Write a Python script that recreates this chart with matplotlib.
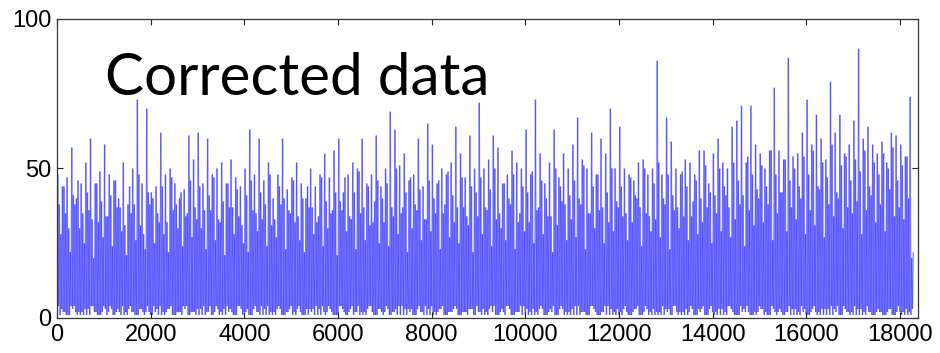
import numpy as np
import matplotlib.pyplot as plt
from matplotlib.collections import LineCollection

# spike heights, one per 100 samples
peaks = [48, 44, 47, 57, 40, 45, 52, 60, 45, 49,
         58, 48, 46, 40, 52, 38, 50, 73, 45, 70,
         42, 44, 62, 48, 50, 45, 40, 43, 61, 53,
         62, 45, 60, 48, 50, 52, 45, 53, 47, 44,
         50, 63, 48, 60, 46, 52, 40, 48, 60, 43,
         47, 52, 45, 40, 50, 44, 48, 55, 47, 56,
         60, 42, 48, 52, 50, 60, 45, 48, 61, 44,
         50, 69, 63, 51, 55, 46, 48, 60, 44, 65,
         58, 45, 50, 48, 52, 64, 55, 47, 61, 50,
         72, 50, 53, 61, 57, 45, 48, 56, 52, 50,
         63, 48, 73, 55, 45, 52, 63, 47, 55, 50,
         58, 67, 53, 50, 62, 48, 60, 55, 70, 50,
         64, 50, 48, 46, 52, 53, 48, 50, 86, 48,
         67, 59, 50, 48, 53, 52, 48, 56, 56, 45,
         55, 60, 52, 50, 64, 66, 71, 52, 71, 58,
         55, 50, 56, 77, 56, 53, 87, 54, 55, 62,
         73, 58, 68, 60, 53, 79, 62, 68, 55, 58,
         66, 90, 60, 64, 58, 55, 59, 52, 62, 61,
         58, 54, 74]

# smaller spikes in between
mids = [38, 44, 30, 41, 46, 35, 42, 33, 45, 39,
        34, 41, 46, 37, 31, 44, 38, 48, 28, 42,
        40, 35, 44, 32, 47, 38, 42, 34, 46, 37,
        44, 36, 41, 47, 33, 39, 45, 37, 43, 31,
        41, 46, 35, 42, 38, 48, 33, 44, 40, 36,
        46, 34, 40, 44, 37, 32, 47, 39, 35, 42,
        39, 47, 34, 42, 49, 37, 44, 32, 46, 40,
        45, 37, 50, 35, 42, 47, 38, 43, 33, 46,
        40, 46, 35, 49, 41, 37, 47, 34, 44, 42,
        47, 37, 43, 50, 35, 45, 40, 48, 32, 44,
        42, 49, 36, 46, 40, 34, 50, 44, 38, 41,
        46, 40, 51, 35, 44, 48, 37, 42, 50, 39,
        44, 35, 47, 41, 37, 50, 34, 45, 52, 40,
        48, 41, 37, 49, 44, 34, 46, 40, 51, 42,
        41, 50, 44, 37, 52, 46, 41, 54, 48, 43,
        51, 44, 56, 48, 42, 53, 46, 50, 44, 54,
        48, 56, 44, 52, 47, 58, 42, 51, 54, 46,
        53, 49, 56, 44, 52, 48, 55, 50, 57, 46,
        51, 54, 20]

# third, lower set of spikes
mids2 = [28, 35, 22, 38, 30, 25, 36, 20, 32, 27,
         34, 24, 37, 29, 21, 35, 26, 31, 23, 38,
         25, 32, 28, 22, 36, 30, 24, 35, 27, 33,
         30, 23, 36, 26, 32, 21, 37, 28, 34, 25,
         22, 36, 29, 33, 24, 31, 27, 38, 23, 35,
         32, 26, 22, 37, 28, 34, 24, 30, 36, 21,
         36, 29, 33, 23, 35, 26, 31, 39, 25, 32,
         24, 34, 28, 37, 22, 30, 36, 26, 33, 29,
         35, 23, 38, 27, 32, 25, 37, 31, 22, 34,
         28, 36, 24, 33, 30, 26, 38, 23, 35, 29,
         32, 25, 37, 28, 34, 22, 31, 39, 26, 33,
         27, 38, 23, 35, 30, 36, 25, 32, 29, 37,
         34, 26, 32, 40, 24, 35, 29, 33, 27, 38,
         23, 36, 30, 34, 26, 39, 28, 32, 37, 25,
         35, 29, 41, 27, 33, 38, 24, 36, 31, 40,
         32, 38, 26, 35, 42, 29, 37, 33, 40, 28,
         36, 31, 43, 27, 38, 34, 40, 30, 37, 35,
         39, 28, 36, 41, 32, 38, 29, 43, 34, 37,
         33, 40, 22]

# troughs near the floor
lows = [1, 3, 1, 4, 2, 1, 3, 1, 2, 1,
        4, 2, 1, 3, 4, 1, 2, 1, 3, 2,
        1, 2, 4, 1, 3, 1, 2, 4, 1, 2,
        3, 1, 2, 1, 4, 2, 1, 3, 1, 4,
        2, 1, 3, 2, 1, 4, 1, 3, 1, 2,
        4, 1, 2, 1, 3, 1, 3, 2, 4, 1,
        1, 3, 1, 4, 2, 2, 1, 4, 1, 3,
        2, 1, 2, 4, 1, 3, 1, 3, 2, 1,
        4, 1, 3, 1, 2, 4, 1, 2, 3, 1,
        2, 3, 1, 2, 1, 3, 4, 1, 2, 4,
        1, 2, 1, 3, 1, 2, 4, 1, 3, 1,
        3, 1, 2, 1, 4, 2, 1, 4, 1, 2,
        1, 3, 1, 2, 4, 1, 3, 1, 2, 1,
        3, 1, 4, 2, 1, 2, 1, 3, 4, 1,
        2, 1, 3, 1, 3, 1, 4, 2, 1, 2,
        4, 1, 1, 3, 2, 1, 2, 3, 1, 4,
        1, 2, 2, 1, 3, 1, 3, 1, 4, 2,
        1, 3, 1, 4, 1, 2, 2, 1, 3, 1,
        2, 1, 2]

n = len(peaks)
base = np.arange(n) * 100
x = np.column_stack([base + k * 100 / 6 for k in range(6)]).ravel()
y = np.column_stack([lows, peaks, lows[3:] + lows[:3], mids,
                     lows[7:] + lows[:7], mids2]).ravel()
pts = np.column_stack([x, y])
segs = np.stack([pts[:-1], pts[1:]], axis=1)

plt.rcParams['font.family'] = ['Liberation Sans', 'DejaVu Sans']

fig = plt.figure(figsize=(9.4, 3.53), dpi=100)
ax = fig.add_axes([0.0606, 0.0992, 0.916, 0.847])

ax.add_collection(LineCollection(segs, colors='#0000ff', linewidths=1.0,
                                 alpha=0.42))

ax.set_xlim(0, 18385)
ax.set_ylim(0, 100)
ax.set_xticks(np.arange(0, 18001, 2000))
ax.set_yticks([0, 50, 100])
ax.tick_params(direction='in', top=True, right=True, length=4, width=0.8,
               labelsize=17, pad=4, colors='#222222', labelcolor='black')
for s in ax.spines.values():
    s.set_color('#333333')
    s.set_linewidth(0.9)

ax.text(1025, 74.6, 'Corrected data', family=['Lato', 'DejaVu Sans'],
        fontsize=42, ha='left', va='baseline', color='black')

fig.savefig('out.png', dpi=100)
